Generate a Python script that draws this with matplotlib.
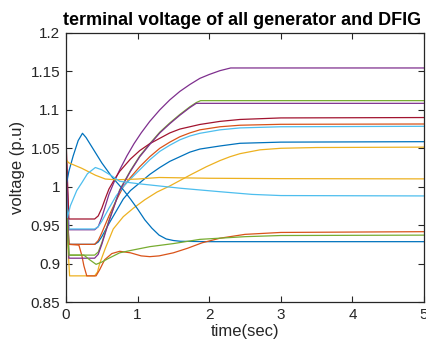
import matplotlib.pyplot as plt
from matplotlib.ticker import FuncFormatter

# MATLAB default line colours
BLUE = '#0072BD'
ORANGE = '#D95319'
YELLOW = '#EDB120'
PURPLE = '#7E2F8E'
GREEN = '#77AC30'
LIGHTBLUE = '#4DBEEE'
DARKRED = '#A2142F'

# terminal voltage traces (time in s, voltage in p.u)
t_blue_a = [0, 0.04, 0.4, 0.45, 0.5, 0.6, 0.7, 0.8, 0.9, 1.03, 1.17, 1.31, 1.45, 1.59, 1.73, 1.87, 2.15, 2.43, 3.0, 5.0]
v_blue_a = [1.02, 0.925, 0.925, 0.928, 0.935, 0.952, 0.968, 0.984, 0.995, 1.005, 1.016, 1.025, 1.033, 1.039, 1.045, 1.049, 1.053, 1.0565, 1.058, 1.0586]

t_orange_a = [0, 0.04, 0.4, 0.45, 0.5, 0.6, 0.7, 0.8, 0.9, 1.03, 1.17, 1.31, 1.45, 1.59, 1.73, 1.87, 2.15, 2.43, 3.0, 5.0]
v_orange_a = [1.03, 0.925, 0.925, 0.93, 0.94, 0.962, 0.982, 1.0, 1.012, 1.026, 1.039, 1.05, 1.058, 1.065, 1.07, 1.074, 1.078, 1.08, 1.0812, 1.0816]

t_yellow_a = [0, 0.05, 0.4, 0.44, 0.47, 0.55, 0.66, 0.8, 0.94, 1.1, 1.27, 1.45, 1.59, 1.75, 1.96, 2.15, 2.29, 2.43, 2.71, 3.0, 3.5, 5.0]
v_yellow_a = [0.97, 0.884, 0.884, 0.889, 0.9, 0.92, 0.945, 0.961, 0.972, 0.983, 0.993, 1.001, 1.008, 1.016, 1.026, 1.034, 1.039, 1.043, 1.048, 1.050, 1.051, 1.0515]

t_purple_a = [0, 0.04, 0.4, 0.45, 0.5, 0.55, 0.6, 0.68, 0.75, 0.85, 0.95, 1.05, 1.17, 1.31, 1.45, 1.59, 1.73, 1.87, 2.0, 2.15, 2.3, 5.0]
v_purple_a = [1.05, 0.944, 0.944, 0.948, 0.96, 0.975, 0.99, 1.008, 1.022, 1.04, 1.056, 1.07, 1.085, 1.1, 1.113, 1.124, 1.133, 1.141, 1.146, 1.151, 1.1545, 1.1545]

t_green_a = [0, 0.04, 0.4, 0.45, 0.5, 0.6, 0.75, 0.9, 1.03, 1.17, 1.31, 1.45, 1.59, 1.73, 1.82, 1.88, 5.0]
v_green_a = [1.04, 0.911, 0.911, 0.915, 0.927, 0.956, 0.996, 1.021, 1.04, 1.056, 1.071, 1.083, 1.094, 1.104, 1.1095, 1.112, 1.112]

t_lightblue_a = [0, 0.04, 0.4, 0.45, 0.5, 0.6, 0.7, 0.8, 0.9, 1.03, 1.17, 1.31, 1.45, 1.59, 1.73, 1.87, 2.15, 2.43, 3.0, 5.0]
v_lightblue_a = [1.04, 0.945, 0.945, 0.948, 0.955, 0.972, 0.988, 1.0, 1.01, 1.022, 1.035, 1.046, 1.054, 1.061, 1.066, 1.0695, 1.074, 1.0765, 1.078, 1.0786]

t_darkred = [0, 0.04, 0.4, 0.45, 0.5, 0.55, 0.6, 0.68, 0.75, 0.9, 1.03, 1.17, 1.31, 1.45, 1.59, 1.73, 1.87, 2.15, 2.43, 3.0, 5.0]
v_darkred = [1.062, 0.958, 0.958, 0.962, 0.972, 0.985, 0.997, 1.01, 1.02, 1.036, 1.047, 1.056, 1.063, 1.07, 1.075, 1.078, 1.081, 1.085, 1.0875, 1.0895, 1.09]

t_blue_b = [0, 0.04, 0.1, 0.17, 0.23, 0.28, 0.4, 0.5, 0.64, 0.8, 0.9, 1.0, 1.1, 1.2, 1.3, 1.4, 1.5, 1.6, 2.0, 5.0]
v_blue_b = [1.0, 1.02, 1.04, 1.06, 1.0695, 1.064, 1.046, 1.031, 1.013, 0.996, 0.984, 0.971, 0.957, 0.946, 0.937, 0.932, 0.93, 0.929, 0.9285, 0.9285]

t_orange_b = [0, 0.04, 0.18, 0.22, 0.25, 0.29, 0.42, 0.47, 0.54, 0.64, 0.75, 0.9, 1.05, 1.17, 1.3, 1.5, 1.7, 1.9, 2.15, 2.5, 3.0, 5.0]
v_orange_b = [1.0, 0.925, 0.924, 0.911, 0.897, 0.884, 0.884, 0.892, 0.905, 0.913, 0.916, 0.914, 0.910, 0.909, 0.910, 0.914, 0.92, 0.927, 0.933, 0.938, 0.9405, 0.9415]

t_yellow_b = [0, 0.04, 0.22, 0.41, 0.55, 0.7, 1.0, 1.3, 2.0, 3.0, 5.0]
v_yellow_b = [1.035, 1.031, 1.024, 1.015, 1.01, 1.009, 1.01, 1.012, 1.011, 1.0105, 1.0102]

t_purple_b = [0, 0.04, 0.4, 0.45, 0.5, 0.6, 0.75, 0.9, 1.03, 1.17, 1.31, 1.45, 1.59, 1.73, 1.82, 5.0]
v_purple_b = [1.04, 0.907, 0.907, 0.912, 0.925, 0.955, 0.995, 1.02, 1.039, 1.055, 1.07, 1.082, 1.093, 1.103, 1.1085, 1.1085]

t_green_b = [0, 0.04, 0.25, 0.33, 0.42, 0.5, 0.6, 0.75, 0.9, 1.17, 1.5, 1.87, 2.5, 3.0, 5.0]
v_green_b = [0.99, 0.911, 0.911, 0.905, 0.899, 0.902, 0.907, 0.914, 0.917, 0.922, 0.926, 0.9315, 0.935, 0.9365, 0.937]

t_lightblue_b = [0, 0.02, 0.06, 0.15, 0.22, 0.3, 0.41, 0.5, 0.64, 0.75, 1.0, 1.2, 1.6, 2.15, 2.6, 3.0, 5.0]
v_lightblue_b = [1.0, 0.96, 0.975, 0.995, 1.005, 1.017, 1.025, 1.022, 1.014, 1.007, 1.004, 1.002, 0.998, 0.9935, 0.990, 0.9885, 0.988]

traces = [
    (t_blue_a, v_blue_a, BLUE),
    (t_orange_a, v_orange_a, ORANGE),
    (t_yellow_a, v_yellow_a, YELLOW),
    (t_purple_a, v_purple_a, PURPLE),
    (t_green_a, v_green_a, GREEN),
    (t_lightblue_a, v_lightblue_a, LIGHTBLUE),
    (t_darkred, v_darkred, DARKRED),
    (t_blue_b, v_blue_b, BLUE),
    (t_orange_b, v_orange_b, ORANGE),
    (t_yellow_b, v_yellow_b, YELLOW),
    (t_purple_b, v_purple_b, PURPLE),
    (t_green_b, v_green_b, GREEN),
    (t_lightblue_b, v_lightblue_b, LIGHTBLUE),
]

plt.rcParams['font.family'] = ['Liberation Sans', 'DejaVu Sans']

fig = plt.figure(figsize=(4.26, 3.52), dpi=100)
ax = fig.add_axes([66 / 426, 1 - 302 / 352, 358 / 426, 269 / 352])

for t, v, color in traces:
    ax.plot(t, v, color=color, linewidth=0.9)

ax.set_xlim(0, 5)
ax.set_ylim(0.85, 1.2)
ax.set_xticks([0, 1, 2, 3, 4, 5])
ax.set_yticks([0.85, 0.9, 0.95, 1.0, 1.05, 1.1, 1.15, 1.2])
ax.yaxis.set_major_formatter(FuncFormatter(lambda y, pos: '%g' % round(y, 2)))
ax.tick_params(direction='in', length=4, width=0.8, top=True, right=True,
               labelsize=11, colors='#262626', pad=4)
for spine in ax.spines.values():
    spine.set_linewidth(0.9)
    spine.set_color('#262626')

ax.set_xlabel('time(sec)', fontsize=12, color='#262626', labelpad=2)
ax.set_ylabel('voltage (p.u)', fontsize=12, color='#262626', labelpad=4)
fig.text(63 / 426, 1 - 25 / 352, 'terminal voltage of all generator and DFIG',
         fontsize=13, fontweight='bold', ha='left', va='baseline')

fig.savefig('out.png', dpi=100)
